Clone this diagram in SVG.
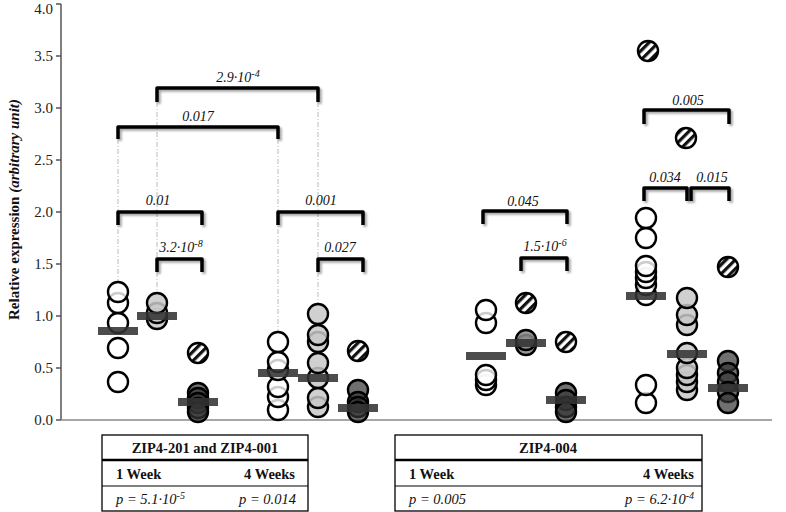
<svg xmlns="http://www.w3.org/2000/svg" width="786" height="512" viewBox="0 0 786 512">
<defs>
<pattern id="hatch" patternUnits="userSpaceOnUse" width="6.5" height="6.5" patternTransform="rotate(45)">
<rect width="6.5" height="6.5" fill="#fff"/>
<rect width="3.2" height="6.5" fill="#111"/>
</pattern>
<filter id="sh" x="-10%" y="-30%" width="130%" height="180%">
<feDropShadow dx="2" dy="2" stdDeviation="1.2" flood-color="#000" flood-opacity="0.35"/>
</filter>
</defs>
<style>
.tick{font-family:"Liberation Serif",serif;font-size:15px;fill:#222;text-anchor:end}
.ax{stroke:#555;stroke-width:1.5;fill:none}
.br{stroke:#000;stroke-width:3.5;fill:none;stroke-linejoin:round;filter:url(#sh)}
.pl{font-family:"Liberation Serif",serif;font-size:14px;font-style:italic;fill:#111;text-anchor:middle}
.sup{font-size:10px}
.dl{stroke:#bbb;stroke-width:1;stroke-dasharray:5 2 1 2;fill:none}
circle{stroke:#000;stroke-width:2.4}
.w{fill:#fff;fill-opacity:0.8}
.g{fill:#c8c8c8;fill-opacity:0.85}
.m{fill:#888;fill-opacity:0.85}
.d{fill:#333;fill-opacity:0.7}
.h{fill:url(#hatch)}
.bar{fill:#333;fill-opacity:0.88}
.tb{fill:none;stroke:#000;stroke-width:1.3}
.th{font-family:"Liberation Serif",serif;font-size:14.5px;font-weight:bold;fill:#111}
.tp{font-family:"Liberation Serif",serif;font-size:14.5px;font-style:italic;fill:#111}
</style>

<g id="axes">
<line class="ax" x1="61" y1="4" x2="61" y2="420"/>
<line x1="61" y1="420" x2="772" y2="420" stroke="#888" stroke-width="1.6"/>
<path class="ax" d="M56,4H61M56,56H61M56,108H61M56,160H61M56,212H61M56,264H61M56,316H61M56,368H61M56,420H61"/>
<text class="tick" x="53" y="14">4.0</text>
<text class="tick" x="53" y="61">3.5</text>
<text class="tick" x="53" y="113">3.0</text>
<text class="tick" x="53" y="165">2.5</text>
<text class="tick" x="53" y="217">2.0</text>
<text class="tick" x="53" y="269">1.5</text>
<text class="tick" x="53" y="321">1.0</text>
<text class="tick" x="53" y="373">0.5</text>
<text class="tick" x="53" y="425">0.0</text>
<text transform="translate(19,320) rotate(-90)" font-family="Liberation Serif,serif" font-size="15" font-weight="bold" fill="#111">Relative expression  <tspan font-style="italic">(arbitrary unit)</tspan></text>
</g>

<g id="connectors">
<line class="dl" x1="118" y1="139" x2="118" y2="282"/>
<line class="dl" x1="157" y1="102" x2="157" y2="293"/>
<line class="dl" x1="278" y1="139" x2="278" y2="332"/>
<line class="dl" x1="318" y1="102" x2="318" y2="304"/>
<path class="br" d="M157,102V88H318V102"/>
<path class="br" d="M118,139V127H278V139"/>
<path class="br" d="M118,225V212H202V225"/>
<path class="br" d="M157,272V259H202V272"/>
<path class="br" d="M278,225V212H363V225"/>
<path class="br" d="M318,272V259H363V272"/>
<path class="br" d="M483,224V211H567V224"/>
<path class="br" d="M521,271V258H567V271"/>
<path class="br" d="M644,124V110H729V124"/>
<path class="br" d="M644,201V188H687V201"/>
<path class="br" d="M691,201V188H729V201"/>
</g>

<g id="pvalues">
<text class="pl" x="238" y="82">2.9·10<tspan class="sup" dy="-5">-4</tspan></text>
<text class="pl" x="198" y="121">0.017</text>
<text class="pl" x="158" y="205">0.01</text>
<text class="pl" x="181" y="252">3.2·10<tspan class="sup" dy="-5">-8</tspan></text>
<text class="pl" x="321" y="205">0.001</text>
<text class="pl" x="340" y="252">0.027</text>
<text class="pl" x="523" y="206">0.045</text>
<text class="pl" x="545" y="251">1.5·10<tspan class="sup" dy="-5">-6</tspan></text>
<text class="pl" x="688" y="105">0.005</text>
<text class="pl" x="665" y="182">0.034</text>
<text class="pl" x="712" y="182">0.015</text>
</g>

<g id="colA">
<circle class="w" cx="118" cy="382" r="10"/>
<circle class="w" cx="118" cy="348" r="10"/>
<circle class="w" cx="118" cy="323" r="10"/>
<circle class="w" cx="118" cy="303" r="10"/>
<circle class="w" cx="118" cy="292" r="10"/>
<rect class="bar" x="98" y="327" width="40" height="8"/>
</g>
<g id="colB">
<circle class="g" cx="157" cy="319" r="10"/>
<circle class="g" cx="157" cy="313" r="10"/>
<circle class="g" cx="157" cy="303" r="10"/>
<rect class="bar" x="137" y="312" width="40" height="8"/>
</g>
<g id="colC">
<circle class="h" cx="198" cy="353" r="10"/>
<circle class="d" cx="198" cy="393" r="10"/>
<circle class="d" cx="198" cy="398" r="10"/>
<circle class="d" cx="198" cy="403" r="10"/>
<circle class="d" cx="198" cy="408" r="10"/>
<circle class="d" cx="198" cy="412" r="10"/>
<rect class="bar" x="178" y="398" width="40" height="8"/>
</g>
<g id="colD">
<circle class="w" cx="278" cy="410" r="10"/>
<circle class="w" cx="278" cy="397" r="10"/>
<circle class="w" cx="278" cy="387" r="10"/>
<circle class="w" cx="278" cy="370" r="10"/>
<circle class="w" cx="278" cy="362" r="10"/>
<circle class="w" cx="278" cy="342" r="10"/>
<rect class="bar" x="258" y="369" width="40" height="8"/>
</g>
<g id="colE">
<circle class="g" cx="318" cy="407" r="10"/>
<circle class="g" cx="318" cy="398" r="10"/>
<circle class="g" cx="318" cy="378" r="10"/>
<circle class="g" cx="318" cy="363" r="10"/>
<circle class="g" cx="318" cy="342" r="10"/>
<circle class="g" cx="318" cy="335" r="10"/>
<circle class="g" cx="318" cy="314" r="10"/>
<rect class="bar" x="298" y="374" width="40" height="8"/>
</g>
<g id="colF">
<circle class="h" cx="358" cy="351" r="10"/>
<circle class="d" cx="358" cy="390" r="10"/>
<circle class="d" cx="358" cy="402" r="10"/>
<circle class="d" cx="358" cy="407" r="10"/>
<circle class="d" cx="358" cy="412" r="10"/>
<rect class="bar" x="338" y="404" width="40" height="8"/>
</g>
<g id="colG">
<circle class="w" cx="486" cy="385" r="10"/>
<circle class="w" cx="486" cy="380" r="10"/>
<circle class="w" cx="486" cy="375" r="10"/>
<circle class="w" cx="486" cy="323" r="10"/>
<circle class="w" cx="486" cy="310" r="10"/>
<rect class="bar" x="466" y="352" width="40" height="8"/>
</g>
<g id="colH">
<circle class="h" cx="526" cy="303" r="10"/>
<circle class="m" cx="526" cy="345" r="10"/>
<circle class="m" cx="526" cy="340" r="10"/>
<rect class="bar" x="506" y="339" width="40" height="8"/>
</g>
<g id="colI">
<circle class="h" cx="566" cy="342" r="10"/>
<circle class="d" cx="566" cy="393" r="10"/>
<circle class="d" cx="566" cy="400" r="10"/>
<circle class="d" cx="566" cy="407" r="10"/>
<circle class="d" cx="566" cy="412" r="10"/>
<rect class="bar" x="546" y="396" width="40" height="8"/>
</g>
<g id="colJ">
<circle class="h" cx="648" cy="51" r="10"/>
<circle class="w" cx="646" cy="403" r="10"/>
<circle class="w" cx="646" cy="385" r="10"/>
<circle class="w" cx="646" cy="295" r="10"/>
<circle class="w" cx="646" cy="285" r="10"/>
<circle class="w" cx="646" cy="278" r="10"/>
<circle class="w" cx="646" cy="272" r="10"/>
<circle class="w" cx="646" cy="266" r="10"/>
<circle class="w" cx="646" cy="238" r="10"/>
<circle class="w" cx="646" cy="218" r="10"/>
<rect class="bar" x="626" y="292" width="40" height="8"/>
</g>
<g id="colK">
<circle class="h" cx="686" cy="138" r="10"/>
<circle class="g" cx="687" cy="390" r="10"/>
<circle class="g" cx="687" cy="382" r="10"/>
<circle class="g" cx="687" cy="375" r="10"/>
<circle class="g" cx="687" cy="368" r="10"/>
<circle class="g" cx="687" cy="353" r="10"/>
<circle class="g" cx="687" cy="325" r="10"/>
<circle class="g" cx="687" cy="315" r="10"/>
<circle class="g" cx="687" cy="298" r="10"/>
<rect class="bar" x="667" y="350" width="40" height="8"/>
</g>
<g id="colL">
<circle class="h" cx="728" cy="267" r="10"/>
<circle class="d" cx="728" cy="361" r="10"/>
<circle class="d" cx="728" cy="373" r="10"/>
<circle class="d" cx="728" cy="382" r="10"/>
<circle class="d" cx="728" cy="392" r="10"/>
<circle class="d" cx="728" cy="403" r="10"/>
<rect class="bar" x="708" y="384" width="40" height="8"/>
</g>

<g id="table1">
<rect class="tb" x="102" y="435" width="206" height="76"/>
<line x1="102" y1="460" x2="308" y2="460" stroke="#000" stroke-width="2.6"/>
<line x1="102" y1="486" x2="308" y2="486" stroke="#000" stroke-width="1"/>
<text class="th" x="205" y="453" text-anchor="middle">ZIP4-201 and ZIP4-001</text>
<text class="th" x="116" y="479">1 Week</text>
<text class="th" x="295" y="479" text-anchor="end">4 Weeks</text>
<text class="tp" x="116" y="504">p = 5.1·10<tspan class="sup" dy="-5">-5</tspan></text>
<text class="tp" x="296" y="504" text-anchor="end">p = 0.014</text>
</g>
<g id="table2">
<rect class="tb" x="395" y="435" width="307" height="76"/>
<line x1="395" y1="460" x2="702" y2="460" stroke="#000" stroke-width="2.6"/>
<line x1="395" y1="486" x2="702" y2="486" stroke="#000" stroke-width="1"/>
<text class="th" x="548" y="453" text-anchor="middle">ZIP4-004</text>
<text class="th" x="409" y="479">1 Week</text>
<text class="th" x="694" y="479" text-anchor="end">4 Weeks</text>
<text class="tp" x="409" y="504">p = 0.005</text>
<text class="tp" x="694" y="504" text-anchor="end">p = 6.2·10<tspan class="sup" dy="-5">-4</tspan></text>
</g>
</svg>
